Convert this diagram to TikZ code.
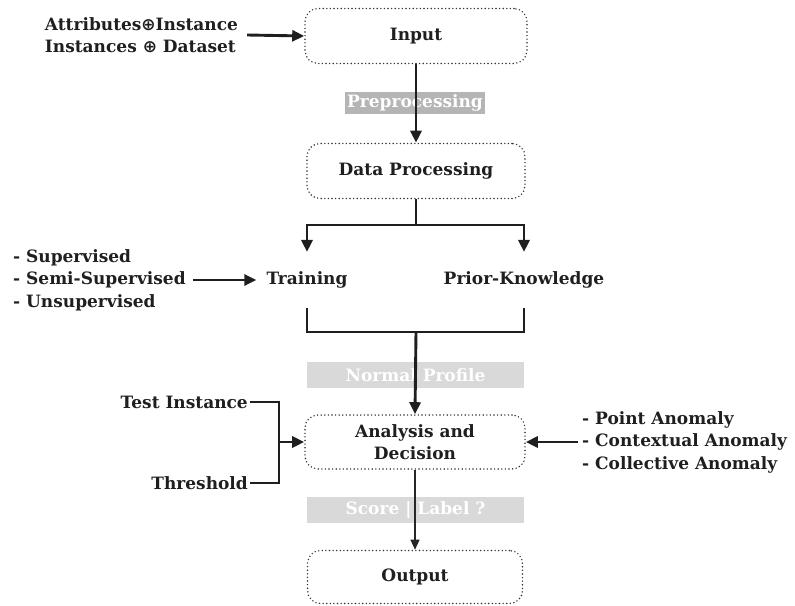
\documentclass[tikz,border=0pt]{standalone}
\usepackage{fontspec}
\setmainfont{DejaVu Serif}
\newfontfamily\symfont{DejaVu Sans}
\usetikzlibrary{arrows.meta}
\begin{document}
\begin{tikzpicture}[x=1pt,y=-1pt,
  txt/.style={font=\bfseries\fontsize{17}{22.5}\selectfont, text=black!88, inner sep=0pt},
  box/.style={txt, draw=black!80, line width=1.6pt, line cap=round, dash pattern=on 0pt off 3.6pt, rounded corners=13pt, align=center},
  tag/.style={txt, text=white, inner sep=0pt},
  line/.style={draw=black!88, line width=2.9pt},
  arr/.style={line, -{Triangle[length=12pt,width=11pt]}},
  thinarr/.style={draw=black!85, line width=1.2pt, -{Triangle[length=10pt,width=9pt]}}
]
\useasboundingbox (0,0) rectangle (795,605);
% gray tags
\node[tag, fill=gray!58, minimum width=140pt, minimum height=22pt] (pre) at (415,102.5) {Preprocessing};
\node[tag, fill=gray!30, minimum width=217pt, minimum height=26pt] (np) at (415.5,375) {Normal Profile};
\node[tag, fill=gray!30, minimum width=217pt, minimum height=26pt] (sl) at (415.5,510) {Score | Label ?};
% main boxes
\node[box, minimum width=222pt, minimum height=55pt] (input) at (416,36) {Input};
\node[box, minimum width=218pt, minimum height=55pt] (dp) at (416,171) {Data Processing};
\node[txt, inner xsep=10pt, inner ysep=19.5pt] (train) at (307,280) {Training};
\node[txt, inner xsep=10pt, inner ysep=19.5pt] (prior) at (524,280) {Prior-Knowledge};
\node[box, minimum width=220pt, minimum height=54pt] (ana) at (415,442) {Analysis and\\Decision};
\node[box, minimum width=215pt, minimum height=53pt] (out) at (415,577) {Output};
% side labels
\node[txt, align=left] (attr) at (141.5,35) {Attributes{\symfont ⊕}Instance\\Instances {\symfont ⊕} Dataset};
\node[txt, align=left, anchor=west] (sup) at (13,280) {- Supervised\\- Semi-Supervised\\- Unsupervised};
\node[txt, anchor=east, inner xsep=2pt] (test) at (250,402) {Test Instance};
\node[txt, anchor=east, inner xsep=2pt] (thr) at (250,483) {Threshold};
\node[txt, align=left, anchor=west] (anom) at (582,442) {- Point Anomaly\\- Contextual Anomaly\\- Collective Anomaly};
% coordinates
\coordinate (bar1) at (416,225);
\coordinate (bar2) at (416,332);
\coordinate (jn) at (279,442);
% connectors
\draw[arr] ([xshift=9pt]attr.east) -- (input.west);
\draw[arr] (input) -- (dp);
\draw[line] (dp.south) -- (bar1);
\draw[arr] (bar1) -| (train.north);
\draw[arr] (bar1) -| (prior.north);
\draw[line] (train.south) |- (bar2) -| (prior.south);
\draw[arr] (bar2) -- (ana.north);
\draw[arr] ([xshift=7pt]sup.east) -- (train.west);
\draw[line] (test.east) -| (jn) |- (thr.east);
\draw[arr] (jn) -- (ana.west);
\draw[arr] ([xshift=-4pt]anom.west) -- (ana.east);
\draw[thinarr] (ana) -- (out);
\end{tikzpicture}
\end{document}
